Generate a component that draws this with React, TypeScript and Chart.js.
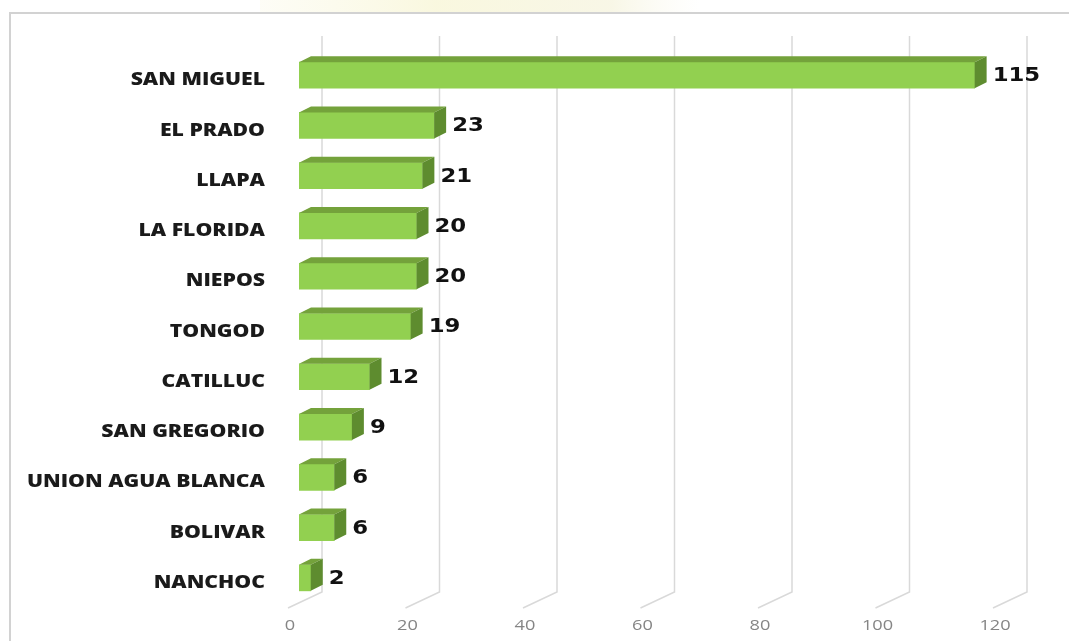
import React, { useEffect, useRef } from "react";
import { Chart, registerables } from "chart.js";

Chart.register(...registerables);

const categories = [
  "SAN MIGUEL",
  "EL PRADO",
  "LLAPA",
  "LA FLORIDA",
  "NIEPOS",
  "TONGOD",
  "CATILLUC",
  "SAN GREGORIO",
  "UNION AGUA BLANCA",
  "BOLIVAR",
  "NANCHOC",
];
const values = [115, 23, 21, 20, 20, 19, 12, 9, 6, 6, 2];
const xTicks = [0, 20, 40, 60, 80, 100, 120];

const FRONT = "#92d050";
const TOP = "#74a23b";
const SIDE = "#5e8c2f";
const DX = 12;
const DY = 6;

function stretchedText(
  ctx: CanvasRenderingContext2D,
  text: string,
  x: number,
  y: number,
  align: CanvasTextAlign,
  sx: number
) {
  ctx.save();
  ctx.translate(x, y);
  ctx.scale(sx, 1);
  ctx.textAlign = align;
  ctx.textBaseline = "middle";
  ctx.fillText(text, 0, 0);
  ctx.restore();
}

const threeD = {
  id: "threeD",
  beforeDraw(chart: any) {
    const ctx: CanvasRenderingContext2D = chart.ctx;
    ctx.save();
    ctx.fillStyle = "#ffffff";
    ctx.fillRect(0, 0, chart.width, chart.height);
    const g = ctx.createLinearGradient(260, 0, 700, 0);
    g.addColorStop(0, "rgba(250,248,225,0.3)");
    g.addColorStop(0.4, "rgba(248,246,215,0.8)");
    g.addColorStop(0.8, "rgba(245,243,220,0.7)");
    g.addColorStop(1, "rgba(250,248,235,0)");
    ctx.fillStyle = g;
    ctx.fillRect(260, 0, 440, 12);
    ctx.strokeStyle = "#d2d2d2";
    ctx.lineWidth = 2;
    ctx.strokeRect(10, 13, chart.width + 20, chart.height + 20);
    ctx.restore();
  },
  beforeDatasetsDraw(chart: any) {
    const ctx: CanvasRenderingContext2D = chart.ctx;
    const xs = chart.scales.x;
    const area = chart.chartArea;
    ctx.save();
    ctx.strokeStyle = "#d9d9d9";
    ctx.lineWidth = 1.5;
    const bottomBack = area.bottom - 11;
    for (const v of xTicks) {
      const px = xs.getPixelForValue(v);
      ctx.beginPath();
      ctx.moveTo(px + 23, 36);
      ctx.lineTo(px + 23, bottomBack);
      ctx.lineTo(px - 11, bottomBack + 16);
      ctx.stroke();
    }
    ctx.fillStyle = "#858585";
    ctx.font = '14px "Open Sans"';
    for (const v of xTicks) {
      const px = xs.getPixelForValue(v);
      stretchedText(ctx, String(v), px - 9, bottomBack + 34, "center", 1.3);
    }
    ctx.restore();
  },
  afterDatasetsDraw(chart: any) {
    const ctx: CanvasRenderingContext2D = chart.ctx;
    const meta = chart.getDatasetMeta(0);
    ctx.save();
    meta.data.forEach((bar: any, i: number) => {
      const x0 = bar.base;
      const x1 = bar.x;
      const y0 = bar.y - bar.height / 2;
      const y1 = bar.y + bar.height / 2;
      ctx.fillStyle = TOP;
      ctx.beginPath();
      ctx.moveTo(x0, y0);
      ctx.lineTo(x0 + DX, y0 - DY);
      ctx.lineTo(x1 + DX, y0 - DY);
      ctx.lineTo(x1, y0);
      ctx.closePath();
      ctx.fill();
      ctx.fillStyle = SIDE;
      ctx.beginPath();
      ctx.moveTo(x1, y0);
      ctx.lineTo(x1 + DX, y0 - DY);
      ctx.lineTo(x1 + DX, y1 - DY);
      ctx.lineTo(x1, y1);
      ctx.closePath();
      ctx.fill();
      ctx.fillStyle = "#111111";
      ctx.font = 'bold 19px "DejaVu Sans"';
      stretchedText(ctx, String(values[i]), x1 + DX + 6, bar.y + 1, "left", 1.2);
      ctx.fillStyle = "#1a1a1a";
      ctx.font = '800 18px "Open Sans"';
      const ref = ctx.measureText("UNION AGUA BLANCA").width;
      const sx = 238 / ref;
      stretchedText(ctx, categories[i], 265, bar.y + 5, "right", sx);
    });
    ctx.restore();
  },
};

export default function App() {
  const ref = useRef<HTMLCanvasElement | null>(null);
  useEffect(() => {
    document.body.style.margin = "0";
    const canvas = ref.current;
    if (!canvas) return;
    const chart = new Chart(canvas, {
      type: "bar",
      data: {
        labels: categories,
        datasets: [
          {
            data: values,
            backgroundColor: FRONT,
            borderWidth: 0,
            barThickness: 26,
          },
        ],
      },
      options: {
        indexAxis: "y",
        responsive: false,
        animation: false,
        devicePixelRatio: 1,
        layout: { padding: { left: 299, right: 65, top: 50, bottom: 38 } },
        plugins: { legend: { display: false }, tooltip: { enabled: false } },
        scales: {
          x: { display: false, min: 0, max: 120 },
          y: { display: false },
        },
      },
      plugins: [threeD],
    });
    return () => chart.destroy();
  }, []);
  return (
    <div style={{ width: 1069, height: 641 }}>
      <canvas ref={ref} width={1069} height={641} style={{ display: "block" }} />
    </div>
  );
}
